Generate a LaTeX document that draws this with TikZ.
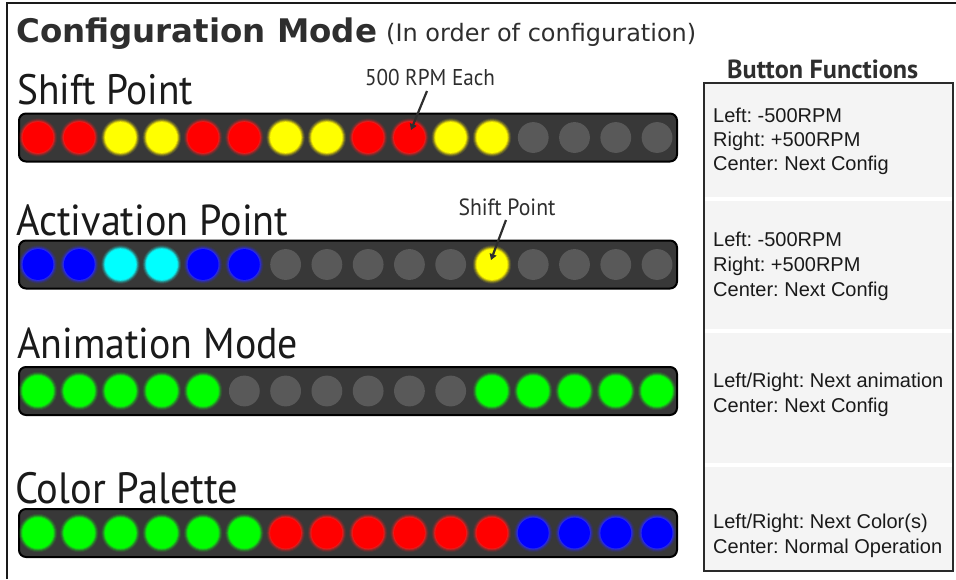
\documentclass[tikz,border=0pt]{standalone}
\usepackage{fontspec}
\setmainfont{Liberation Sans}
\newfontfamily\labelfont{PT Sans}
\newfontfamily\titlefont{DejaVu Sans}
\usetikzlibrary{arrows.meta}
\frenchspacing

% strip and panel colours
\definecolor{barfill}{HTML}{383838}
\definecolor{panelfill}{HTML}{F4F4F4}
\definecolor{panelline}{HTML}{2A2A2A}
\definecolor{ink}{HTML}{1A1A1A}
\definecolor{titleink}{HTML}{2E2E2E}
% LED core colours (O = unlit)
\definecolor{ledR}{HTML}{FF0000}
\definecolor{ledY}{HTML}{FFFF00}
\definecolor{ledB}{HTML}{0000FF}
\definecolor{ledC}{HTML}{00FFFF}
\definecolor{ledG}{HTML}{00FF00}
\definecolor{ledO}{HTML}{595959}
% LED halo colours (unlit LEDs have no visible halo)
\definecolor{glowR}{HTML}{FF1A1A}
\definecolor{glowY}{HTML}{FFF200}
\definecolor{glowB}{HTML}{2A2AFF}
\definecolor{glowC}{HTML}{10FFFF}
\definecolor{glowG}{HTML}{10F010}
\definecolor{glowO}{HTML}{383838}

% one LED with a soft halo: x, y, colour letter
\newcommand\ledat[3]{%
  \fill[fill=glow#3, opacity=0.12] (#1,#2) circle (19.2);
  \fill[fill=glow#3, opacity=0.22] (#1,#2) circle (18.2);
  \fill[fill=glow#3, opacity=0.40] (#1,#2) circle (17.2);
  \fill[fill=glow#3, opacity=0.65] (#1,#2) circle (16.3);
  \fill[fill=led#3] (#1,#2) circle (15.4);
}
% a row of 16 LEDs centred on height #1
\newcommand\ledrow[2]{%
  \foreach \c [count=\i from 0] in {#2} {\ledat{38+41.27*\i}{#1}{\c}}%
}
% text fitted to a width, stretched slightly upward
\newcommand\fitw[2]{\resizebox{#1}{!}{#2}}
\newcommand\fitlbl[2]{\scalebox{1}[1.08]{\resizebox{#1}{!}{#2}}}

\begin{document}
\begin{tikzpicture}[x=1pt,y=-1pt,
  strip/.style={draw=black, line width=2pt, fill=barfill, rounded corners=7pt},
  panel/.style={draw=panelline, line width=2pt, fill=panelfill},
  divider/.style={draw=white, line width=3.5pt},
  frameline/.style={draw=ink, line width=2.5pt},
  lbl/.style={anchor=base west, inner sep=0pt, text=ink, font=\labelfont},
  note/.style={anchor=base, inner sep=0pt, text=titleink, font=\labelfont},
  paneltext/.style={anchor=base west, inner sep=0pt, text=ink,
    font=\fontsize{20}{24}\selectfont},
  callout/.style={draw=titleink, line width=2.2pt,
    -{Triangle[length=6pt,width=7pt]}}]

\useasboundingbox (0,0) rectangle (956,579);
\fill[white] (0,0) rectangle (956,579);

% outer frame (left and top edges)
\draw[frameline] (7,579) -- (7,3) -- (956,3);

% heading
\node[anchor=base west, inner sep=0pt, text=titleink] (title) at (16,42)
  {\fitw{361pt}{\titlefont\bfseries Configuration Mode}};
\node[anchor=base west, inner sep=0pt, text=titleink] (subtitle) at (386,41)
  {\fitw{310pt}{\titlefont (In order of configuration)}};

% row labels
\node[lbl] (lshift) at (17,104) {\fitlbl{176pt}{Shift Point}};
\node[lbl] (lact)   at (16,235) {\fitlbl{272pt}{Activation Point}};
\node[lbl] (lanim)  at (17,358) {\fitlbl{281pt}{Animation Mode}};
\node[lbl] (lcol)   at (15,503) {\fitlbl{223pt}{Color Palette}};

% LED strips
\draw[strip] (19,113.5) rectangle (677,161.5);
\draw[strip] (19,240.5) rectangle (677,288.5);
\draw[strip] (19,367)   rectangle (677,415);
\draw[strip] (19,509)   rectangle (677,557);

\ledrow{137.5}{R,R,Y,Y,R,R,Y,Y,R,R,Y,Y,O,O,O,O}
\ledrow{264.5}{B,B,C,C,B,B,O,O,O,O,O,Y,O,O,O,O}
\ledrow{391}{G,G,G,G,G,O,O,O,O,O,O,G,G,G,G,G}
\ledrow{533}{G,G,G,G,G,G,R,R,R,R,R,R,B,B,B,B}

% callouts
\node[note] (n500) at (430,85) {\fitlbl{130pt}{500 RPM Each}};
\coordinate (c500a) at (427,91);
\coordinate (c500b) at (411,130);
\draw[callout] (c500a) -- (c500b);

\node[note] (nsp) at (507,215) {\fitlbl{97pt}{Shift Point}};
\coordinate (cspa) at (506,220);
\coordinate (cspb) at (491,260);
\draw[callout] (cspa) -- (cspb);

% button functions panel
\node[anchor=base west, inner sep=0pt, text=titleink] (bfhead) at (727,78)
  {\fitw{191pt}{\labelfont\bfseries Button Functions}};
\draw[panel] (704,83) rectangle (953,571);
\draw[divider] (705.2,199) -- (951.8,199);
\draw[divider] (705.2,331) -- (951.8,331);
\draw[divider] (705.2,465) -- (951.8,465);

\node[paneltext] (p1a) at (713,122)   {Left: -500RPM};
\node[paneltext] (p1b) at (713,146)   {Right: +500RPM};
\node[paneltext] (p1c) at (713,170.5) {Center: Next Config};

\node[paneltext] (p2a) at (713,246)   {Left: -500RPM};
\node[paneltext] (p2b) at (713,271.5) {Right: +500RPM};
\node[paneltext] (p2c) at (713,296.5) {Center: Next Config};

\node[paneltext] (p3a) at (713,387)   {Left/Right: Next animation};
\node[paneltext] (p3b) at (713,412)   {Center: Next Config};

\node[paneltext] (p4a) at (713,528)   {Left/Right: Next Color(s)};
\node[paneltext] (p4b) at (713,553)   {Center: Normal Operation};

\end{tikzpicture}
\end{document}
